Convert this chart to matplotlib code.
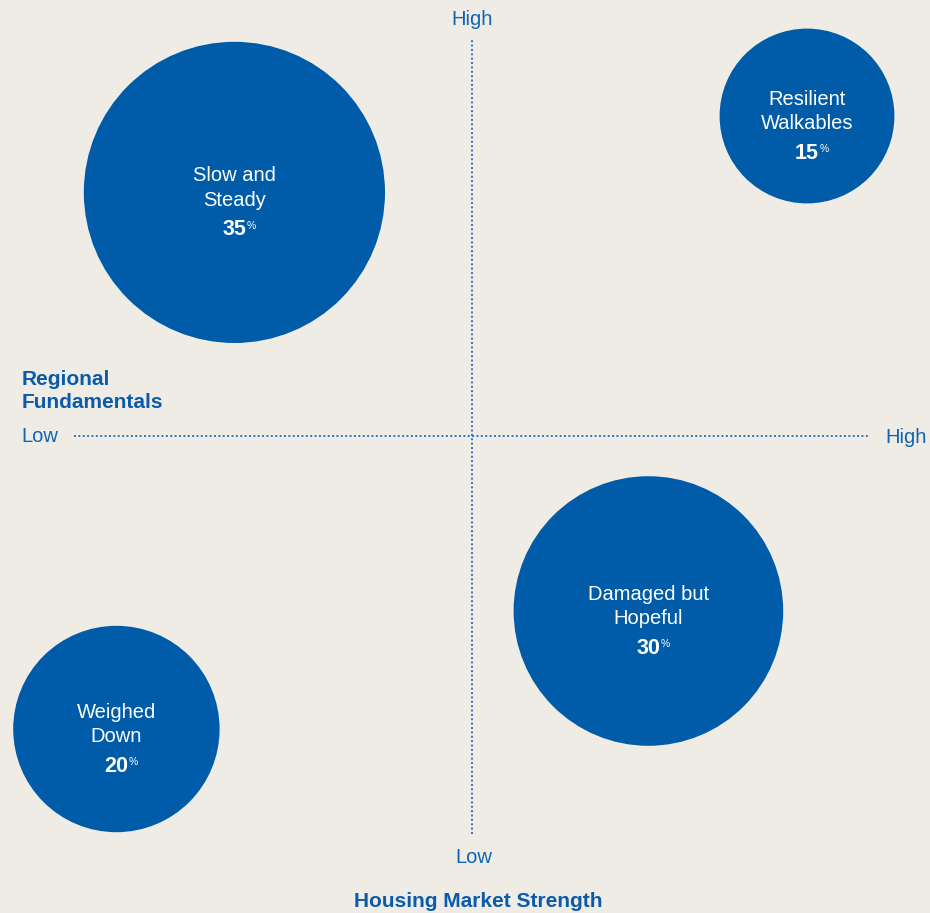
import matplotlib
matplotlib.use("Agg")
import matplotlib.pyplot as plt
from matplotlib.patches import Circle

plt.rcParams['font.family'] = ['Liberation Sans', 'DejaVu Sans']

# segment names, share of metros, and position on the two axes (-1 low .. 1 high)
segments = ['Slow and\nSteady', 'Resilient\nWalkables', 'Damaged but\nHopeful', 'Weighed\nDown']
shares = [35, 15, 30, 20]
housing_strength = [-0.594, 0.8375, 0.441, -0.889]
regional_fundamentals = [0.609, 0.80, -0.4375, -0.7325]

BG = '#EFECE6'
BUBBLE = '#005CA9'
LABEL = '#1064B3'
TITLE = '#0A5BAA'


def bubble_radius(share):
    return 0.1 + 0.0079 * share


fig = plt.figure(figsize=(9.30, 9.13), dpi=100, facecolor=BG)
ax = fig.add_axes([0, 0, 1, 1])
ax.set_facecolor(BG)
ax.set_xlim(-1.18, 1.145)
ax.set_ylim(-1.1925, 1.09)
ax.axis('off')

# dotted quadrant axes
dots = dict(color='#2A74C2', lw=1.4, linestyle=(0, (1.0, 1.25)), zorder=1)
ax.plot([0, 0], [-0.995, 0.995], **dots)
ax.plot([-0.995, 0.995], [0, 0], **dots)

for name, share, x, y in zip(segments, shares, housing_strength, regional_fundamentals):
    ax.add_patch(Circle((x, y), bubble_radius(share), facecolor=BUBBLE,
                        edgecolor='none', zorder=2))
    first, second = name.split('\n')
    ax.text(x, y + 0.028, first, ha='center', va='baseline', color='white',
            fontsize=14.5, zorder=3)
    ax.text(x, y - 0.033, second, ha='center', va='baseline', color='white',
            fontsize=14.5, zorder=3)
    num = ax.text(x, y - 0.107, str(share), ha='center', va='baseline',
                  color='white', fontsize=15.5, fontweight='bold', zorder=3)
    ax.annotate('%', xy=(1, 1), xycoords=num, xytext=(0.2, -1.0),
                textcoords='offset points', ha='left', va='top',
                color='white', fontsize=7.5, zorder=3)

# axis end labels
ax.text(0, 1.0275, 'High', ha='center', va='baseline', color=LABEL, fontsize=14.5)
ax.text(0.005, -1.0675, 'Low', ha='center', va='baseline', color=LABEL, fontsize=14.5)
ax.text(-1.126, -0.015, 'Low', ha='left', va='baseline', color=LABEL, fontsize=14.5)
ax.text(1.0325, -0.0175, 'High', ha='left', va='baseline', color=LABEL, fontsize=14.5)

# axis titles
ax.text(-1.126, 0.1275, 'Regional', ha='left', va='baseline', color=TITLE,
        fontsize=15, fontweight='bold')
ax.text(-1.126, 0.07, 'Fundamentals', ha='left', va='baseline', color=TITLE,
        fontsize=15, fontweight='bold')
ax.text(0.015, -1.1775, 'Housing Market Strength', ha='center', va='baseline',
        color=TITLE, fontsize=15, fontweight='bold')

fig.savefig('out.png', dpi=100, facecolor=BG)
